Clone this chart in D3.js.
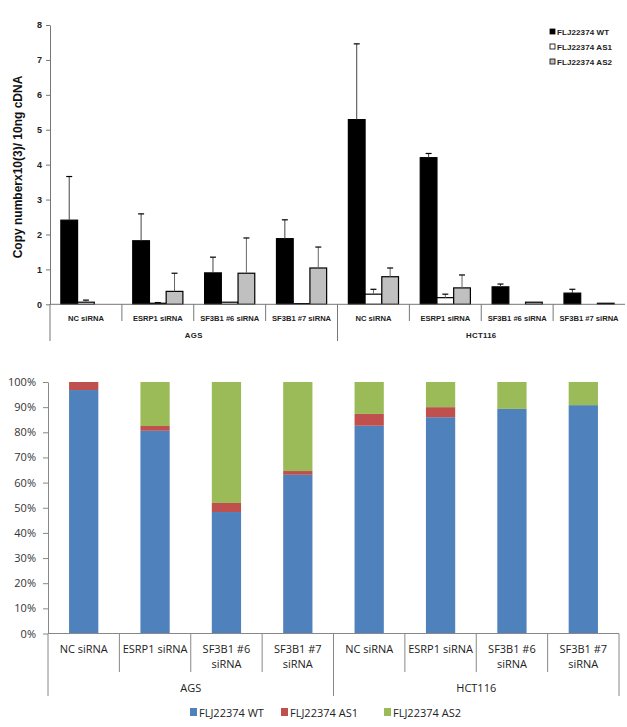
<!DOCTYPE html>
<html><head><meta charset="utf-8">
<script src="https://cdn.jsdelivr.net/npm/d3@7"></script>
<style>body{margin:0;background:#fff}svg{display:block}</style>
</head><body>
<svg id="c" width="627" height="727"></svg>
<script>
const categories = ["NC siRNA","ESRP1 siRNA","SF3B1 #6 siRNA","SF3B1 #7 siRNA","NC siRNA","ESRP1 siRNA","SF3B1 #6 siRNA","SF3B1 #7 siRNA"];
const categories2 = [["NC siRNA"],["ESRP1 siRNA"],["SF3B1 #6","siRNA"],["SF3B1 #7","siRNA"],["NC siRNA"],["ESRP1 siRNA"],["SF3B1 #6","siRNA"],["SF3B1 #7","siRNA"]];
const groups = ["AGS","HCT116"];
const series = ["FLJ22374 WT","FLJ22374 AS1","FLJ22374 AS2"];
// top chart: copy number values and upper error bar tops
const wtValues  = [2.41,1.82,0.90,1.88,5.29,4.20,0.50,0.32];
const wtErr     = [3.66,2.59,1.35,2.42,7.46,4.32,0.58,0.43];
const as1Values = [0.06,0.03,0.06,0.02,0.29,0.19,0,0];
const as1Err    = [0.12,0.05,0.06,0.02,0.43,0.29,0,0];
const as2Values = [0,0.37,0.89,1.04,0.79,0.47,0.06,0.03];
const as2Err    = [0,0.89,1.90,1.64,1.04,0.84,0.06,0.03];
const yTicksTop = [0,1,2,3,4,5,6,7,8];
// bottom chart: percentages
const wtPct  = [96.8,80.6,48.3,63.1,82.6,86.0,89.3,90.8];
const as1Pct = [3.2,1.9,3.6,1.5,4.7,4.0,0,0];
const as2Pct = [0,17.5,48.1,35.4,12.7,10.0,10.7,9.2];
const yTicksBot = [0,10,20,30,40,50,60,70,80,90,100];

const svg = d3.select("#c");
const idx = d3.range(categories.length);

// ---------- TOP CHART ----------
const topG = svg.append("g");
const xT = d3.scaleBand().domain(idx).range([50,625]).paddingInner(0).paddingOuter(0);
const xTs = d3.scaleBand().domain(series).range([0,xT.bandwidth()]).paddingInner(0).paddingOuter(0.65);
const yT = d3.scaleLinear().domain([0,8]).range([304.3,25]);
const fontTop = "'Liberation Sans', Arial, sans-serif";

const yAxT = d3.axisLeft(yT).tickValues(yTicksTop).tickSize(4).tickSizeOuter(0).tickFormat(d3.format("d"));
const gy = topG.append("g").attr("transform","translate(50,0)").call(yAxT);
gy.select(".domain").attr("stroke","#777");
gy.selectAll(".tick line").attr("stroke","#777");
gy.selectAll(".tick text").attr("font-family",fontTop).attr("font-size",9).attr("font-weight","bold").attr("fill","#222").attr("x",-8);

topG.append("text").attr("transform","translate(22,167) rotate(-90)").attr("text-anchor","middle")
  .attr("font-family",fontTop).attr("font-size",12).attr("font-weight","bold").attr("fill","#111")
  .text("Copy numberx10(3)/ 10ng cDNA");

const topData = [
  {s:series[0], v:wtValues, e:wtErr, fill:"#000", ec:"#444"},
  {s:series[1], v:as1Values, e:as1Err, fill:"#fff", ec:"#666"},
  {s:series[2], v:as2Values, e:as2Err, fill:"#c0c0c0", ec:"#666"}
];
topData.forEach(sd=>{
  const g = topG.append("g");
  idx.forEach(i=>{
    const x = xT(i)+xTs(sd.s), w = xTs.bandwidth();
    const v = sd.v[i];
    if (v>0) {
      g.append("rect").attr("x",x).attr("y",yT(v)).attr("width",w).attr("height",Math.max(0.5,yT(0)-yT(v)))
        .attr("fill",sd.fill).attr("stroke","#000").attr("stroke-width",1.2);
    }
    if (sd.e[i]>v+0.005) {
      const cx = x+w/2;
      g.append("line").attr("x1",cx).attr("x2",cx).attr("y1",yT(v)).attr("y2",yT(sd.e[i])).attr("stroke",sd.ec).attr("stroke-width",1);
      g.append("line").attr("x1",cx-3).attr("x2",cx+3).attr("y1",yT(sd.e[i])).attr("y2",yT(sd.e[i])).attr("stroke","#000").attr("stroke-width",1.2);
    }
  });
});
topG.append("line").attr("x1",50).attr("x2",625).attr("y1",yT(0)).attr("y2",yT(0)).attr("stroke","#777");
idx.forEach(i=>{
  if (i===0) return;
  const x = xT(i);
  const long = i===4;
  topG.append("line").attr("x1",x).attr("x2",x).attr("y1",yT(0)).attr("y2",long?341:321).attr("stroke","#777");
});
topG.append("line").attr("x1",50).attr("x2",50).attr("y1",yT(0)).attr("y2",341).attr("stroke","#777");
idx.forEach(i=>{
  topG.append("text").attr("x",xT(i)+xT.bandwidth()/2).attr("y",321).attr("text-anchor","middle")
    .attr("font-family",fontTop).attr("font-size",7.6).attr("font-weight","bold").attr("fill","#222")
    .text(categories[i]);
});
groups.forEach((gname,k)=>{
  const x0 = xT(k*4), x1 = k===0 ? xT(4) : 625;
  topG.append("text").attr("x",(x0+x1)/2).attr("y",338).attr("text-anchor","middle")
    .attr("font-family",fontTop).attr("font-size",7.8).attr("font-weight","bold").attr("fill","#222")
    .attr("letter-spacing",0.3).text(gname);
});
const legT = topG.append("g");
const legFills = ["#000","#fff","#c0c0c0"];
series.forEach((s,k)=>{
  const y = 32+k*15;
  legT.append("rect").attr("x",550).attr("y",y-3).attr("width",5).attr("height",5).attr("fill",legFills[k]).attr("stroke","#000").attr("stroke-width",0.8);
  legT.append("text").attr("x",557).attr("y",y+3).attr("font-family",fontTop).attr("font-size",8).attr("font-weight","bold")
    .attr("fill","#222").attr("letter-spacing",0.1).text(s);
});

// ---------- BOTTOM CHART ----------
const botG = svg.append("g");
const xB = d3.scaleBand().domain(idx).range([48,619]).paddingInner(0.59).paddingOuter(0.295);
const xBc = d3.scaleBand().domain(idx).range([48,619]).padding(0);
const yB = d3.scaleLinear().domain([0,100]).range([633.5,382]);
const fontBot = "'Open Sans', 'Liberation Sans', Arial, sans-serif";
const colors = ["#4F81BD","#C0504D","#9BBB59"];

const stackData = idx.map(i=>({i, [series[0]]:wtPct[i], [series[1]]:as1Pct[i], [series[2]]:as2Pct[i]}));
const stacked = d3.stack().keys(series)(stackData);
stacked.forEach((layer,k)=>{
  botG.append("g").attr("fill",colors[k]).selectAll("rect").data(layer).join("rect")
    .attr("x",d=>xB(d.data.i)).attr("width",xB.bandwidth())
    .attr("y",d=>yB(d[1])).attr("height",d=>yB(d[0])-yB(d[1]));
});

const yAxB = d3.axisLeft(yB).tickValues(yTicksBot).tickSize(5).tickSizeOuter(0).tickFormat(d=>d+"%");
const gyb = botG.append("g").attr("transform","translate(48,0)").call(yAxB);
gyb.select(".domain").attr("stroke","#888");
gyb.selectAll(".tick line").attr("stroke","#888");
gyb.selectAll(".tick text").attr("font-family",fontBot).attr("font-size",11).attr("fill","#333").attr("x",-12);

botG.append("line").attr("x1",48).attr("x2",619).attr("y1",yB(0)).attr("y2",yB(0)).attr("stroke","#888");
botG.append("line").attr("x1",48).attr("x2",48).attr("y1",yB(0)).attr("y2",696).attr("stroke","#888");
idx.forEach(i=>{
  const x = xBc(i)+xBc.bandwidth();
  const long = (i===3 || i===7);
  botG.append("line").attr("x1",x).attr("x2",x).attr("y1",yB(0)).attr("y2",long?696:672).attr("stroke","#888");
});
idx.forEach(i=>{
  const t = botG.append("text").attr("text-anchor","middle").attr("font-family",fontBot).attr("font-size",11).attr("fill","#222");
  categories2[i].forEach((line,j)=>{
    t.append("tspan").attr("x",xBc(i)+xBc.bandwidth()/2).attr("y",653+j*15).text(line);
  });
});
groups.forEach((gname,k)=>{
  const x0 = xBc(k*4), x1 = xBc(k*4+3)+xBc.bandwidth();
  botG.append("text").attr("x",(x0+x1)/2).attr("y",692).attr("text-anchor","middle")
    .attr("font-family",fontBot).attr("font-size",11).attr("fill","#222").text(gname);
});
const legX = [190,281,384];
series.forEach((s,k)=>{
  botG.append("rect").attr("x",legX[k]).attr("y",708).attr("width",7).attr("height",8).attr("fill",colors[k]);
  botG.append("text").attr("x",legX[k]+9).attr("y",716.5).attr("font-family",fontBot).attr("font-size",11).attr("fill","#222").text(s);
});
</script>
</body></html>
